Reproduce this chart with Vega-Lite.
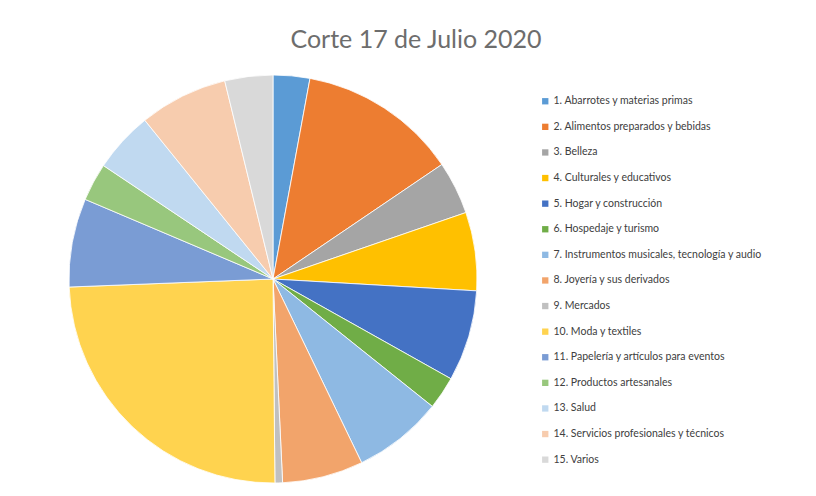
{
  "$schema": "https://vega.github.io/schema/vega-lite/v6.json",
  "autosize": "none",
  "width": 408,
  "height": 408,
  "padding": {"left": 69, "top": 75, "right": 339, "bottom": 13},
  "background": "white",
  "title": {
    "text": "Corte 17 de Julio 2020",
    "fontSize": 25,
    "font": "Lato",
    "fontWeight": "normal",
    "color": "#6d6d6d",
    "anchor": "middle",
    "dx": 143,
    "offset": 20
  },
  "data": {
    "values": [
      {"orden": 1, "categoria": "1. Abarrotes y materias primas", "porcentaje": 2.9},
      {"orden": 2, "categoria": "2. Alimentos preparados y bebidas", "porcentaje": 12.6},
      {"orden": 3, "categoria": "3. Belleza", "porcentaje": 4.2},
      {"orden": 4, "categoria": "4. Culturales y educativos", "porcentaje": 6.2},
      {"orden": 5, "categoria": "5. Hogar y construcción", "porcentaje": 7.2},
      {"orden": 6, "categoria": "6. Hospedaje y turismo", "porcentaje": 2.6},
      {"orden": 7, "categoria": "7. Instrumentos musicales, tecnología y audio", "porcentaje": 7.1},
      {"orden": 8, "categoria": "8. Joyería y sus derivados", "porcentaje": 6.4},
      {"orden": 9, "categoria": "9. Mercados", "porcentaje": 0.6},
      {"orden": 10, "categoria": "10. Moda y textiles", "porcentaje": 24.5},
      {"orden": 11, "categoria": "11. Papelería y artículos para eventos", "porcentaje": 7.0},
      {"orden": 12, "categoria": "12. Productos artesanales", "porcentaje": 3.0},
      {"orden": 13, "categoria": "13. Salud", "porcentaje": 4.8},
      {"orden": 14, "categoria": "14. Servicios profesionales y técnicos", "porcentaje": 7.0},
      {"orden": 15, "categoria": "15. Varios", "porcentaje": 3.8}
    ]
  },
  "mark": {"type": "arc", "stroke": "white", "strokeWidth": 0.8},
  "encoding": {
    "theta": {"field": "porcentaje", "type": "quantitative", "stack": true},
    "order": {"field": "orden", "type": "quantitative"},
    "color": {
      "field": "categoria",
      "type": "nominal",
      "sort": {"field": "orden"},
      "scale": {
        "domain": [
          "1. Abarrotes y materias primas",
          "2. Alimentos preparados y bebidas",
          "3. Belleza",
          "4. Culturales y educativos",
          "5. Hogar y construcción",
          "6. Hospedaje y turismo",
          "7. Instrumentos musicales, tecnología y audio",
          "8. Joyería y sus derivados",
          "9. Mercados",
          "10. Moda y textiles",
          "11. Papelería y artículos para eventos",
          "12. Productos artesanales",
          "13. Salud",
          "14. Servicios profesionales y técnicos",
          "15. Varios"
        ],
        "range": ["#5B9BD5", "#ED7D31", "#A5A5A5", "#FFC000", "#4472C4", "#70AD47", "#8EB9E3", "#F2A46B", "#C0C0C0", "#FFD34F", "#7A9CD4", "#98C77D", "#C0D9F0", "#F7CCAE", "#D9D9D9"]
      },
      "legend": {
        "title": null,
        "orient": "none",
        "legendX": 471,
        "legendY": 21,
        "symbolType": "square",
        "symbolSize": 40,
        "symbolStrokeWidth": 0,
        "labelFont": "Lato",
        "labelFontSize": 10.5,
        "labelColor": "#404040",
        "labelLimit": 320,
        "labelOffset": 3,
        "rowPadding": 14.6
      }
    }
  },
  "config": {"view": {"stroke": null}}
}
